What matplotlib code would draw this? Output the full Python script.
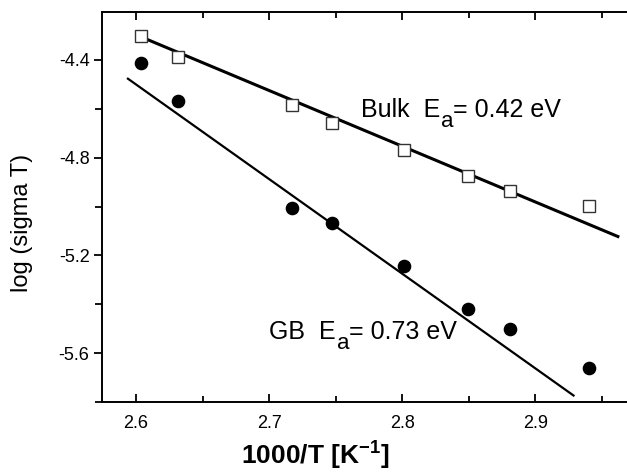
import matplotlib
matplotlib.use("Agg")
import matplotlib.pyplot as plt
from matplotlib.ticker import MultipleLocator

plt.rcParams['font.family'] = ['Liberation Sans', 'DejaVu Sans']
plt.rcParams['mathtext.fontset'] = 'custom'
plt.rcParams['mathtext.rm'] = 'Liberation Sans'
plt.rcParams['mathtext.it'] = 'Liberation Sans'
plt.rcParams['mathtext.bf'] = 'Liberation Sans:bold'
plt.rcParams['axes.unicode_minus'] = False

# Data (1000/T, log(sigma T))
bulk_x = [2.604, 2.6315, 2.717, 2.747, 2.801, 2.849, 2.881, 2.9406]
bulk_y = [-4.302, -4.388, -4.584, -4.658, -4.768, -4.875, -4.936, -4.998]
gb_x = [2.604, 2.6315, 2.717, 2.747, 2.801, 2.849, 2.881, 2.9406]
gb_y = [-4.412, -4.568, -5.006, -5.067, -5.243, -5.419, -5.501, -5.661]

# Fit lines (end points)
bulk_fit_x = [2.604, 2.963]
bulk_fit_y = [-4.306, -5.125]
gb_fit_x = [2.5932, 2.9293]
gb_fit_y = [-4.474, -5.776]

fig = plt.figure(figsize=(6.27, 4.72), dpi=100)
ax = fig.add_axes([0.1627, 0.1483, 0.8373, 0.8263])

ax.plot(bulk_fit_x, bulk_fit_y, color='black', lw=2.2, solid_capstyle='butt', zorder=2)
ax.plot(gb_fit_x, gb_fit_y, color='black', lw=1.6, solid_capstyle='butt', zorder=2)
ax.plot(bulk_x, bulk_y, linestyle='none', marker='s', ms=8, mfc='white',
        mec='#333333', mew=1.0, zorder=3)
ax.plot(gb_x, gb_y, linestyle='none', marker='o', ms=8.8, mfc='black',
        mec='black', zorder=3)


def label_with_sub(x, y, head, sub, tail, fs=18, subfs=16, drop=7):
    t1 = ax.text(x, y, head, fontsize=fs, ha='left', va='bottom')
    t2 = ax.annotate(sub, xy=(1, 0), xycoords=t1, xytext=(0.5, -drop),
                     textcoords='offset points', fontsize=subfs,
                     ha='left', va='bottom')
    ax.annotate(tail, xy=(1, 0), xycoords=t2, xytext=(0, drop),
                textcoords='offset points', fontsize=fs,
                ha='left', va='bottom')


label_with_sub(2.769, -4.654, "Bulk  E", "a", "= 0.42 eV")
label_with_sub(2.7, -5.563, "GB  E", "a", "= 0.73 eV")

ax.set_xlim(2.5744, 2.9688)
ax.set_ylim(-5.80, -4.2035)
ax.xaxis.set_major_locator(MultipleLocator(0.1))
ax.xaxis.set_minor_locator(MultipleLocator(0.05))
ax.yaxis.set_major_locator(MultipleLocator(0.4))
ax.yaxis.set_minor_locator(MultipleLocator(0.2))

for s in ['left', 'bottom', 'top']:
    ax.spines[s].set_linewidth(1.4)
ax.spines['right'].set_visible(False)

ax.tick_params(axis='x', which='both', direction='in', top=True, bottom=True,
               labelsize=13, pad=9)
ax.tick_params(axis='x', which='major', length=6, width=1.3)
ax.tick_params(axis='x', which='minor', length=4, width=1.3)
ax.tick_params(axis='y', which='both', direction='out', left=True, right=False,
               labelsize=13, pad=3)
ax.tick_params(axis='y', which='major', length=6, width=1.3)
ax.tick_params(axis='y', which='minor', length=5, width=1.3)

ax.set_xlabel(r"1000/T [K$^{\mathbf{-1}}$]", fontsize=19, fontweight='bold')
ax.xaxis.set_label_coords(0.406, -0.098)
ax.set_ylabel("log (sigma T)", fontsize=17)
ax.yaxis.set_label_coords(-0.131, 0.46)

fig.savefig("out.png", dpi=100)
